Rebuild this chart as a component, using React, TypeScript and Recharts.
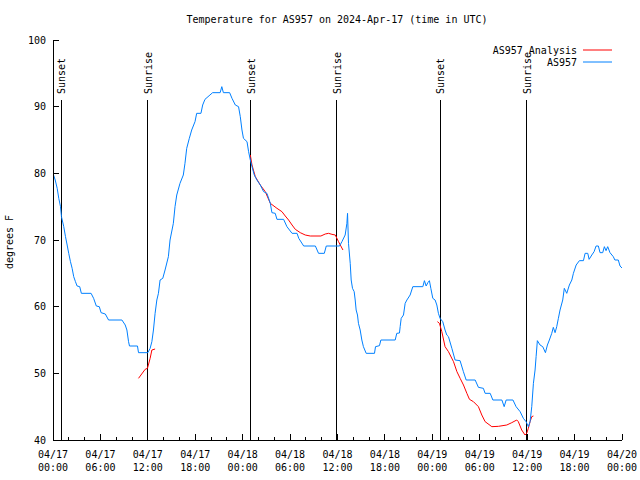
import { LineChart, Line, XAxis, YAxis, ReferenceLine, Legend } from "recharts"

// hours since 2024-04-17 00:00 UTC, temperature in F
const observed: Array<[number, number]> = [
  [0, 80], [0.28, 79], [0.53, 77.75], [0.73, 76.25], [0.95, 75], [1.07, 73.5], [1.36, 72], [1.58, 70.5],
  [1.79, 69.25], [1.99, 68], [2.21, 66.75], [2.42, 65.75], [2.62, 64.5], [2.84, 63.75], [3.05, 63.1], [3.38, 63],
  [3.59, 62], [4.82, 62], [5.14, 61.25], [5.48, 60.1], [5.86, 60], [6.08, 59.1], [6.62, 58.9], [7.03, 58],
  [8.72, 58], [9.14, 57.25], [9.35, 56.5], [9.56, 54.75], [9.68, 54.1], [10.69, 54.1], [10.82, 53.1], [12.0, 53.1],
  [12.29, 53.75], [12.51, 54.75], [12.71, 56.5], [12.92, 59], [13.14, 61], [13.34, 62], [13.55, 64], [13.89, 64.25],
  [14.18, 65.5], [14.6, 67.5], [14.81, 70], [15.23, 72.5], [15.44, 75], [15.66, 76.75], [16.07, 78.5], [16.49, 79.75],
  [16.7, 81.5], [16.92, 83.75], [17.25, 85.25], [17.55, 86.5], [17.97, 87.75], [18.18, 89], [18.72, 89], [18.94, 90.25],
  [19.23, 91.1], [19.86, 91.75], [20.2, 92.1], [21.15, 92.1], [21.36, 93], [21.56, 92.1], [22.35, 92.1], [22.65, 91.25],
  [23.07, 90.25], [23.48, 90], [23.7, 88.5], [23.91, 86.5], [24.1, 85.25], [24.55, 84.75], [24.75, 83.25], [24.97, 82],
  [25.18, 81], [25.47, 79.75], [25.8, 79], [26.23, 78.25], [26.65, 77.25], [27.07, 77], [27.5, 75.5], [27.7, 74.1],
  [28.12, 74], [28.34, 73.1], [29.18, 73.1], [29.6, 72], [30.25, 71], [30.88, 71], [31.1, 70.25], [31.72, 69.1],
  [33.2, 69.1], [33.6, 68], [34.33, 68], [34.58, 69.1], [36.26, 69.1], [36.56, 69.75], [36.97, 70.75], [37.19, 72.5],
  [37.27, 74], [37.39, 69.5], [37.61, 66.5], [37.73, 64], [37.9, 62.75], [38.11, 62.25], [38.24, 61], [38.36, 59.5],
  [38.53, 58.75], [38.65, 57.5], [38.87, 56.5], [39.08, 55], [39.28, 54], [39.63, 53], [40.68, 53], [40.81, 54],
  [41.31, 54.15], [41.49, 55], [43.3, 55], [43.5, 56], [43.84, 56.05], [43.93, 57], [44.06, 58.25], [44.35, 58.75],
  [44.56, 60.5], [44.78, 61], [45.19, 61.75], [45.53, 63], [46.8, 63], [47.0, 63.9], [47.22, 63.1], [47.43, 63.6],
  [47.63, 63.9], [47.81, 62.75], [48.06, 61.25], [48.35, 61], [48.57, 60.25], [48.77, 59], [48.98, 58.25], [49.32, 57.75],
  [49.61, 56.5], [49.83, 55.75], [50.04, 55.5], [50.47, 53.75], [50.88, 52], [51.51, 51.9], [51.93, 50.25], [52.28, 49],
  [53.42, 49], [53.83, 47.9], [54.46, 47.75], [54.68, 47], [55.32, 47], [55.66, 46], [56.8, 46], [57.09, 45],
  [57.34, 46], [58.2, 46], [58.6, 45], [59.11, 44.25], [59.52, 43.25], [59.86, 42.75], [60.15, 42], [60.37, 42.75],
  [60.58, 45], [60.79, 48.5], [61.0, 50.5], [61.13, 52.5], [61.29, 54.9], [61.63, 54.25], [61.97, 54], [62.31, 53.1],
  [62.56, 54.25], [62.81, 55], [63.11, 56], [63.31, 56.9], [63.53, 56.1], [63.74, 57], [63.95, 58.25], [64.16, 59.5],
  [64.5, 61], [64.7, 62.75], [65.01, 62], [65.34, 63.25], [65.65, 64], [65.85, 65], [66.2, 66.25], [66.61, 66.9],
  [67.12, 66.9], [67.33, 68], [67.67, 68], [67.84, 67.1], [68.18, 67.75], [68.47, 68.25], [68.72, 69.1], [69.01, 69.1],
  [69.22, 68.1], [69.56, 68.1], [69.77, 69], [69.98, 68.4], [70.19, 69], [70.48, 68.1], [70.9, 67.5], [71.1, 67],
  [71.53, 67], [71.75, 66.1], [72, 65.8],
]

const analysisDawn1: Array<[number, number]> = [
  [10.82, 49.25], [11.66, 50.6], [11.95, 50.75], [12.29, 52.25], [12.51, 53.5], [12.92, 53.65],
]
const analysisNight: Array<[number, number]> = [
  [24.97, 82.75], [25.18, 81.25], [25.6, 79.5], [26.23, 78.25], [26.86, 77.25], [27.5, 75.5], [28.34, 74.75],
  [28.97, 74.25], [29.39, 73.6], [29.81, 73], [30.25, 72.25], [30.66, 71.6], [31.29, 71.1], [31.92, 70.75],
  [32.55, 70.6], [33.9, 70.6], [34.45, 70.9], [34.87, 71], [35.3, 70.85], [35.72, 70.75], [36.13, 69.75], [36.69, 68.5],
]
const analysisDawn2: Array<[number, number]> = [
  [48.64, 57.75], [48.9, 57.5], [49.2, 56.25], [49.61, 54], [50.04, 53.25], [50.68, 51.75], [51.11, 50.25],
  [51.52, 49.25], [51.94, 48.25], [52.37, 47], [52.7, 46.1], [53.2, 45.75], [53.83, 45], [54.26, 43.75],
  [54.68, 42.75], [55.53, 42], [56.36, 42.05], [57.42, 42.25], [58.05, 42.6], [58.68, 43], [58.88, 42.75],
  [59.31, 41.5], [59.73, 40.75], [59.94, 41], [60.15, 41.75], [60.37, 42.75], [60.58, 43.5], [60.79, 43.6],
]

const sunsetHours = [1.04, 25.01, 49.03]
const sunriseHours = [11.98, 35.88, 59.95]
const sunLineTop = 91

const xTicks = [0, 2, 4, 6, 8, 10, 12, 14, 16, 18, 20, 22, 24, 26, 28, 30, 32, 34, 36, 38, 40, 42, 44, 46, 48, 50, 52, 54, 56, 58, 60, 62, 64, 66, 68, 70, 72]
const tickDates = ["04/17", "04/17", "04/17", "04/17", "04/18", "04/18", "04/18", "04/18", "04/19", "04/19", "04/19", "04/19", "04/20"]
const tickTimes = ["00:00", "06:00", "12:00", "18:00", "00:00", "06:00", "12:00", "18:00", "00:00", "06:00", "12:00", "18:00", "00:00"]
const yTicks = [40, 50, 60, 70, 80, 90, 100]

const FONT = "'DejaVu Sans Mono', 'Liberation Mono', monospace"
const BLUE = "#0080ff"
const RED = "#ff0000"

const toRows = (pts: Array<[number, number]>) => pts.map(([h, v]) => ({ h, v }))

const BottomTick = (p: any) => {
  const v = p.payload.value
  const major = v % 6 === 0
  const i = Math.round(v / 6)
  return (
    <g>
      <line x1={p.x} y1={p.y} x2={p.x} y2={p.y - (major ? 6 : 3)} stroke="#000" shapeRendering="crispEdges" />
      {major && (
        <text x={p.x} y={p.y + 18} textAnchor="middle" fontFamily={FONT} fontSize={10} fill="#000">
          {tickDates[i]}
        </text>
      )}
      {major && (
        <text x={p.x} y={p.y + 31} textAnchor="middle" fontFamily={FONT} fontSize={10} fill="#000">
          {tickTimes[i]}
        </text>
      )}
    </g>
  )
}

const TopTick = (p: any) => {
  const major = p.payload.value % 6 === 0
  return <line x1={p.x} y1={p.y} x2={p.x} y2={p.y + (major ? 6 : 3)} stroke="#000" shapeRendering="crispEdges" />
}

const LeftTick = (p: any) => (
  <g>
    <line x1={p.x} y1={p.y} x2={p.x + 6} y2={p.y} stroke="#000" shapeRendering="crispEdges" />
    <text x={p.x - 7} y={p.y + 3.5} textAnchor="end" fontFamily={FONT} fontSize={10} fill="#000">
      {p.payload.value}
    </text>
  </g>
)

const RightTick = (p: any) => (
  <line x1={p.x} y1={p.y} x2={p.x - 6} y2={p.y} stroke="#000" shapeRendering="crispEdges" />
)

const sunLabel = (text: string) => (p: any) => {
  const vb = p.viewBox
  const x = vb.x + 4
  const y = vb.y - 6
  return (
    <text x={x} y={y} transform={`rotate(-90 ${x} ${y})`} textAnchor="start" fontFamily={FONT} fontSize={10} fill="#000">
      {text}
    </text>
  )
}

const LegendBox = () => (
  <svg width={150} height={30}>
    <text x={107} y={12.5} textAnchor="end" fontFamily={FONT} fontSize={10} fill="#000">AS957 Analysis</text>
    <line x1={113} y1={9} x2={142} y2={9} stroke={RED} />
    <text x={107} y={24.5} textAnchor="end" fontFamily={FONT} fontSize={10} fill="#000">AS957</text>
    <line x1={113} y1={21} x2={142} y2={21} stroke={BLUE} />
  </svg>
)

export default function App() {
  return (
    <div style={{ position: "absolute", left: 0, top: 0, width: 640, height: 480, background: "#fff" }}>
      <LineChart width={640} height={480} margin={{ top: 40, right: 18, bottom: 10, left: 0 }}>
        <XAxis
          xAxisId="b"
          dataKey="h"
          type="number"
          domain={[0, 72]}
          ticks={xTicks}
          interval={0}
          allowDataOverflow
          height={30}
          tickSize={0}
          tickMargin={0}
          tickLine={false}
          axisLine={{ stroke: "#000", shapeRendering: "crispEdges" }}
          tick={BottomTick}
        />
        <XAxis
          xAxisId="t"
          orientation="top"
          type="number"
          domain={[0, 72]}
          ticks={xTicks}
          interval={0}
          allowDataOverflow
          height={0}
          tickSize={0}
          tickMargin={0}
          tickLine={false}
          axisLine={{ stroke: "#000", shapeRendering: "crispEdges" }}
          tick={TopTick}
        />
        <YAxis
          yAxisId="l"
          type="number"
          domain={[40, 100]}
          ticks={yTicks}
          interval={0}
          allowDataOverflow
          width={53}
          tickSize={0}
          tickMargin={0}
          tickLine={false}
          axisLine={{ stroke: "#000", shapeRendering: "crispEdges" }}
          tick={LeftTick}
        />
        <YAxis
          yAxisId="r"
          orientation="right"
          type="number"
          domain={[40, 100]}
          ticks={yTicks}
          interval={0}
          allowDataOverflow
          width={0}
          tickSize={0}
          tickMargin={0}
          tickLine={false}
          axisLine={{ stroke: "#000", shapeRendering: "crispEdges" }}
          tick={RightTick}
        />
        {sunsetHours.map((h) => (
          <ReferenceLine
            key={"ss" + h}
            xAxisId="b"
            yAxisId="l"
            segment={[{ x: h, y: sunLineTop }, { x: h, y: 40 }]}
            stroke="#000"
            shapeRendering="crispEdges"
            label={sunLabel("Sunset")}
          />
        ))}
        {sunriseHours.map((h) => (
          <ReferenceLine
            key={"sr" + h}
            xAxisId="b"
            yAxisId="l"
            segment={[{ x: h, y: sunLineTop }, { x: h, y: 40 }]}
            stroke="#000"
            shapeRendering="crispEdges"
            label={sunLabel("Sunrise")}
          />
        ))}
        {[analysisDawn1, analysisNight, analysisDawn2].map((seg, i) => (
          <Line
            key={"a" + i}
            xAxisId="b"
            yAxisId="l"
            data={toRows(seg)}
            dataKey="v"
            type="linear"
            stroke={RED}
            strokeWidth={1}
            dot={false}
            isAnimationActive={false}
          />
        ))}
        <Line
          xAxisId="b"
          yAxisId="l"
          data={toRows(observed)}
          dataKey="v"
          type="linear"
          stroke={BLUE}
          strokeWidth={1}
          dot={false}
          isAnimationActive={false}
        />
        <Legend
          layout="vertical"
          align="center"
          verticalAlign="middle"
          wrapperStyle={{ left: 470, top: 41, width: 150, height: 30 }}
          content={LegendBox}
        />
        <text x={337} y={23} textAnchor="middle" fontFamily={FONT} fontSize={10} fill="#000">
          Temperature for AS957 on 2024-Apr-17 (time in UTC)
        </text>
        <text x={13} y={242} transform="rotate(-90 13 242)" textAnchor="middle" fontFamily={FONT} fontSize={10} fill="#000">
          degrees F
        </text>
      </LineChart>
    </div>
  )
}
